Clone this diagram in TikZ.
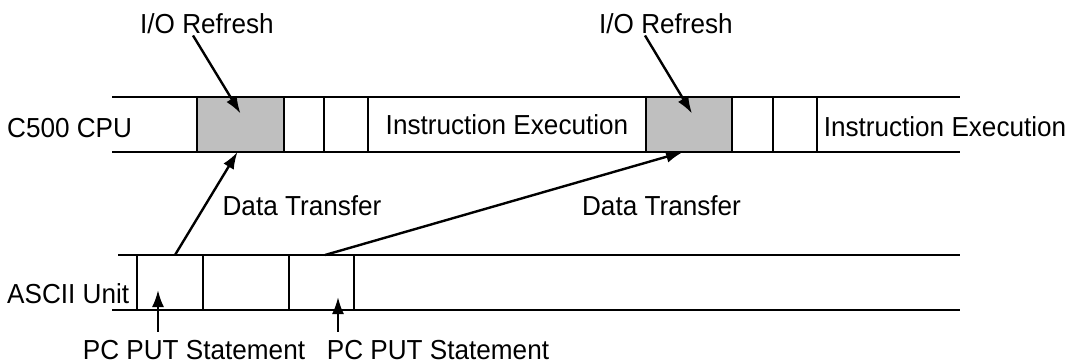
\documentclass[tikz,border=0pt]{standalone}
\usepackage{fontspec}
\setmainfont[FakeStretch=0.95]{Liberation Sans}
\usetikzlibrary{arrows.meta,positioning}

\begin{document}
\begin{tikzpicture}[
    x=1pt,y=-1pt,
    lbl/.style={font=\fontsize{27.5}{31}\selectfont,inner sep=0pt,anchor=base},
    cell/.style={draw,line width=2.4pt,minimum height=55pt,anchor=north west,
                 inner sep=0pt,outer sep=0pt,font=\fontsize{27.5}{31}\selectfont},
    refresh/.style={cell,fill=gray!50},
    band/.style={line width=2.4pt},
    arrow/.style={line width=2.4pt,-{Latex[length=17pt,width=12pt]}}]
    \useasboundingbox (0,0) rectangle (1080,364);
    % C500 CPU band
    \draw[band] (112,97) -- (960,97);
    \draw[band] (112,152) -- (960,152);
    \node[refresh,minimum width=87pt] (r1) at (197,97) {};
    \node[cell,minimum width=40pt] (c1) at (284,97) {};
    \node[cell,minimum width=44pt] (c2) at (324,97) {};
    \node[cell,minimum width=278pt] (ex1) at (368,97) {Instruction Execution};
    \node[refresh,minimum width=86pt] (r2) at (646,97) {};
    \node[cell,minimum width=41pt] (c3) at (732,97) {};
    \node[cell,minimum width=44pt] (c4) at (773,97) {};
    \node[lbl] (ex2) at (945,136) {Instruction Execution};
    \node[lbl,anchor=base west] (cpu) at (7,137) {C500 CPU};
    % ASCII Unit band
    \draw[band] (118,255) -- (960,255);
    \draw[band] (112,310) -- (960,310);
    \node[cell,minimum width=66pt] (a1) at (137,255) {};
    \node[cell,minimum width=86pt] (a2) at (203,255) {};
    \node[cell,minimum width=65pt] (a3) at (289,255) {};
    \node[lbl,anchor=base west] (ascii) at (7,303) {ASCII Unit};
    % labels
    \node[lbl] (io1) at (207,33) {I/O Refresh};
    \node[lbl] (io2) at (666,33) {I/O Refresh};
    \node[lbl] (dt1) at (302,215) {Data Transfer};
    \node[lbl] (dt2) at (661.5,215) {Data Transfer};
    \node[lbl] (pc1) at (194,359) {PC PUT Statement};
    \node[lbl] (pc2) at (438,359) {PC PUT Statement};
    % arrows
    \draw[arrow] ([xshift=-14pt,yshift=-2pt]io1.south) -- ([yshift=11pt]r1.center);
    \draw[arrow] ([xshift=-21pt,yshift=-2pt]io2.south) -- ([xshift=3pt,yshift=11pt]r2.center);
    \draw[arrow] ([xshift=5pt]a1.north) -- ([xshift=-3pt]r1.south);
    \draw[arrow] ([xshift=3.5pt]a3.north) -- ([xshift=-6pt]r2.south);
    \draw[arrow] ([xshift=-36pt,yshift=8pt]pc1.north) -- ([xshift=-12pt,yshift=-7.5pt]a1.center);
    \draw[arrow] ([xshift=-100pt,yshift=8pt]pc2.north) -- ([xshift=16.5pt,yshift=-14.5pt]a3.center);
\end{tikzpicture}
\end{document}
